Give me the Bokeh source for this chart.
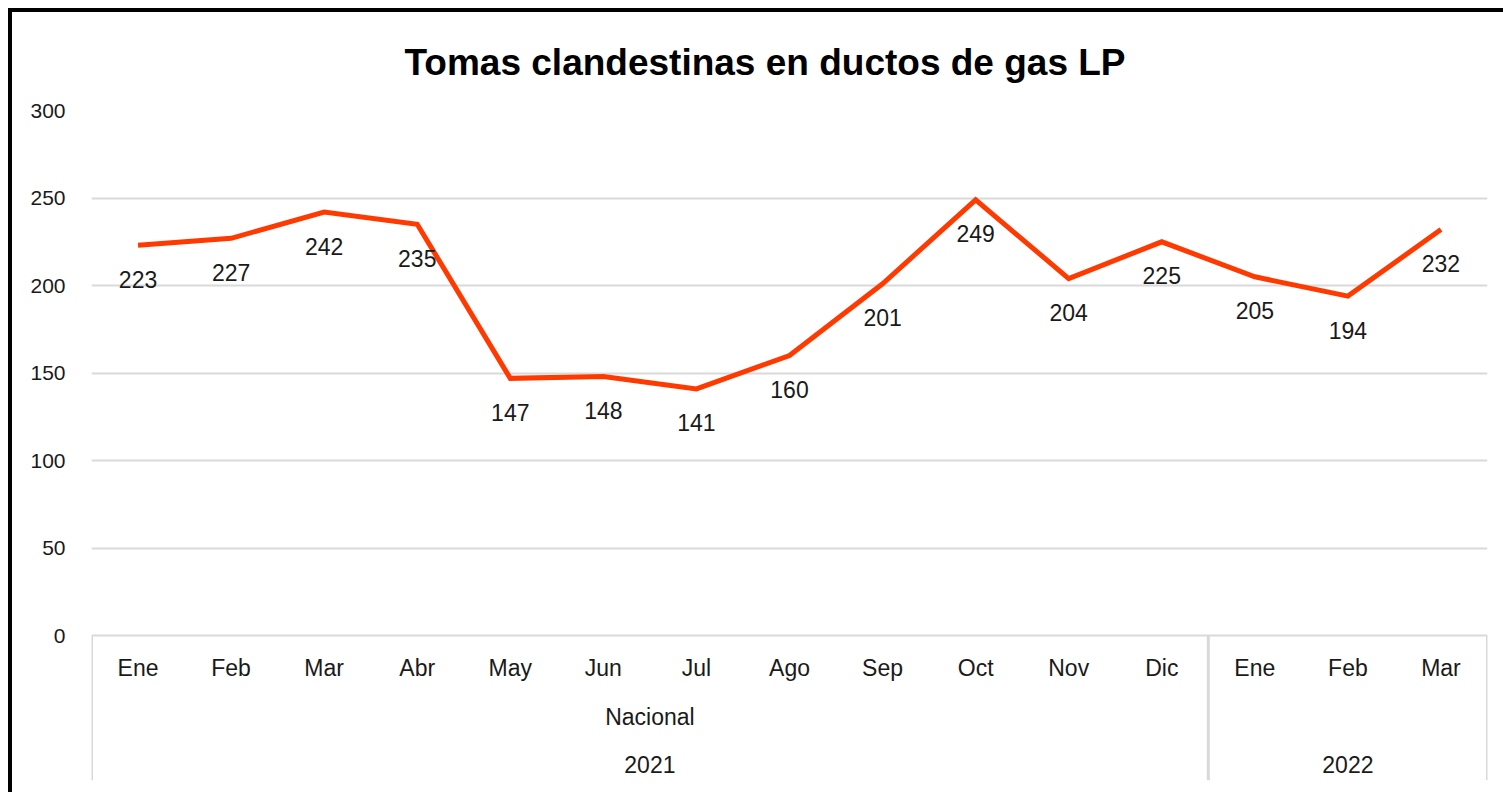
from bokeh.plotting import figure
from bokeh.models import FixedTicker, Range1d, Title, ColumnDataSource
from bokeh.core.properties import value
from bokeh.embed import file_html
from bokeh.resources import INLINE

# ---------------- data ----------------
months = ["Ene", "Feb", "Mar", "Abr", "May", "Jun", "Jul", "Ago", "Sep", "Oct", "Nov", "Dic",
          "Ene", "Feb", "Mar"]
values = [223, 227, 242, 235, 147, 148, 141, 160, 201, 249, 204, 225, 205, 194, 232]
years = ["2021", "2022"]
year_counts = [12, 3]
subgroups = ["Nacional", ""]
y_ticks = [0, 50, 100, 150, 200, 250, 300]
title_text = "Tomas clandestinas en ductos de gas LP"

# ---------------- styling / layout ----------------
FONT = "Liberation Sans"
LINE_COLOR = "#FF3A00"
GRID_COLOR = "#D9D9D9"
TEXT_COLOR = "#1a1a1a"

W, H = 1495, 784
ML, MR, MT, MB = 79, 20, 97, 16
frame_h = H - MT - MB
y_max = 300
px_per_unit = 526 / y_max
y_min = -(frame_h - y_max * px_per_unit) / px_per_unit

n = len(months)
xs = [i + 0.5 for i in range(n)]

p = figure(width=W, height=H, output_backend="svg", toolbar_location=None,
           x_range=Range1d(0, n), y_range=Range1d(y_min, y_max),
           min_border_left=ML, min_border_right=MR, min_border_top=MT, min_border_bottom=MB,
           title=None)
p.styles = {"border-left": "4px solid black", "border-top": "4px solid black",
            "margin-left": "8px", "margin-top": "8px"}
p.outline_line_color = None
p.background_fill_color = "white"
p.border_fill_color = "white"

p.xaxis.visible = False
p.xgrid.visible = False

p.yaxis.ticker = FixedTicker(ticks=y_ticks)
p.yaxis.axis_line_color = None
p.yaxis.major_tick_line_color = None
p.yaxis.minor_tick_line_color = None
p.yaxis.major_label_standoff = 20
p.yaxis.major_label_text_font = FONT
p.yaxis.major_label_text_font_size = "21px"
p.yaxis.major_label_text_color = TEXT_COLOR

p.ygrid.ticker = FixedTicker(ticks=y_ticks)
p.ygrid.grid_line_color = GRID_COLOR
p.ygrid.grid_line_width = 2

p.add_layout(Title(text=title_text, align="left", offset=313, standoff=55,
                   text_font=FONT, text_font_size="37px", text_font_style="bold",
                   text_color="black"), "above")

# group separators (derived from group sizes)
bounds = [0]
for c in year_counts:
    bounds.append(bounds[-1] + c)
p.segment(x0=bounds, y0=[0] * len(bounds), x1=bounds, y1=[y_min] * len(bounds),
          line_color=GRID_COLOR, line_width=3)

# line
src = ColumnDataSource(dict(x=xs, y=values, lbl=[str(v) for v in values]))
p.line("x", "y", source=src, line_color=LINE_COLOR, line_width=5, line_join="miter")

# data labels
p.text("x", "y", text="lbl", source=src, text_align="center", text_baseline="middle",
       y_offset=34, text_font=value(FONT), text_font_size="23px", text_color=TEXT_COLOR)

# category labels
def px_to_y(px_below_zero):
    return -px_below_zero / px_per_unit

p.text(x=xs, y=[px_to_y(32)] * n, text=months, text_align="center", text_baseline="middle",
       text_font=value(FONT), text_font_size="23px", text_color=TEXT_COLOR)

centers = [(bounds[i] + bounds[i + 1]) / 2 for i in range(len(years))]
p.text(x=centers, y=[px_to_y(81)] * len(years), text=subgroups, text_align="center",
       text_baseline="middle", text_font=value(FONT), text_font_size="23px", text_color=TEXT_COLOR)
p.text(x=centers, y=[px_to_y(129)] * len(years), text=years, text_align="center",
       text_baseline="middle", text_font=value(FONT), text_font_size="23px", text_color=TEXT_COLOR)

open("out.html", "w").write(file_html(p, INLINE))
